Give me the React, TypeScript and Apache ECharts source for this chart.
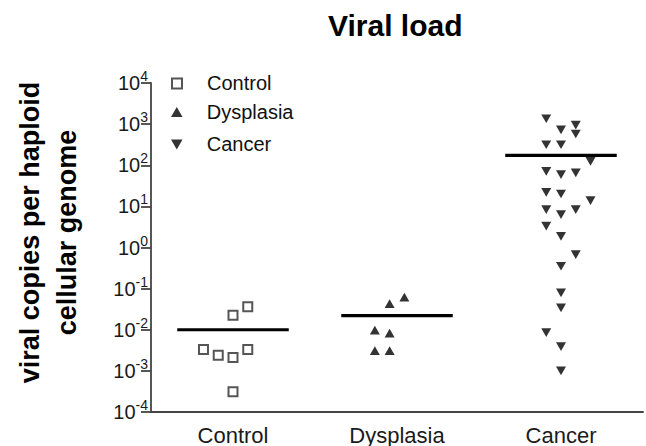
import React, { useEffect, useRef } from "react";
import * as echarts from "echarts";

const FONT = "'Liberation Sans', Arial, Helvetica, sans-serif";

const categories = ["Control", "Dysplasia", "Cancer"];
const chartTitle = "Viral load";
const yAxisName = "viral copies per haploid\ncellular genome";
const yMin = 1e-4;
const yMax = 1e4;

// [horizontal jitter step, value]
const controlPoints: [number, number][] = [
  [1, 0.036],
  [0, 0.0225],
  [-2, 0.0033],
  [-1, 0.0024],
  [0, 0.0021],
  [1, 0.0033],
  [0, 0.00031],
];
const dysplasiaPoints: [number, number][] = [
  [0.5, 0.062],
  [-0.5, 0.043],
  [-1.5, 0.0098],
  [-0.5, 0.0083],
  [-1.5, 0.0031],
  [-0.5, 0.0031],
];
const cancerPoints: [number, number][] = [
  [-1, 1350],
  [1, 950],
  [0, 725],
  [1, 575],
  [-1, 315],
  [0, 315],
  [2, 124],
  [-1, 71],
  [0, 59],
  [1, 65],
  [-1, 21.9],
  [0, 20],
  [2, 13.8],
  [-1, 8.3],
  [0, 6.3],
  [1, 8.3],
  [-1, 3.3],
  [0, 1.87],
  [1, 0.67],
  [0, 0.35],
  [0, 0.079],
  [0, 0.034],
  [-1, 0.0085],
  [0, 0.0039],
  [0, 0.001],
];
const groupMeans = [0.01, 0.022, 174];

const JITTER = 0.09;
const MEAN_HALF = 0.34;
const LEGEND_TOPS = [73.4, 102, 134.4];

export default function App() {
  const ref = useRef<HTMLDivElement>(null);
  useEffect(() => {
    if (!ref.current) return;
    const chart = echarts.init(ref.current, undefined, { renderer: "svg" });
    const toXY = (pts: [number, number][], ci: number) =>
      pts.map(([s, v]) => [ci + 0.5 + s * JITTER, v]);
    const meanSeries = groupMeans.map((m, i) => ({
      type: "line",
      name: "mean-" + categories[i],
      data: [
        [i + 0.5 - MEAN_HALF, m],
        [i + 0.5 + MEAN_HALF, m],
      ],
      symbol: "none",
      lineStyle: { color: "#000", width: 3.2 },
      silent: true,
      z: 1,
    }));
    const square = "path://M0 0 L10 0 L10 10 L0 10 Z";
    const upTri = "path://M5 0 L10 8.66 L0 8.66 Z";
    const downTri = "path://M0 0 L10 0 L5 8.66 Z";
    chart.setOption({
      animation: false,
      backgroundColor: "#fff",
      title: {
        text: chartTitle,
        left: 328,
        top: 10,
        padding: 0,
        textStyle: { fontFamily: FONT, fontSize: 30, fontWeight: "bold", color: "#000" },
      },
      legend: categories.map((c, i) => ({
        orient: "vertical",
        left: 171,
        top: LEGEND_TOPS[i],
        padding: 0,
        itemWidth: 50,
        itemHeight: 10,
        symbolKeepAspect: true,
        data: [c],
        textStyle: { fontFamily: FONT, fontSize: 20, color: "#111", lineHeight: 20 },
      })),
      graphic: [
        {
          type: "text",
          x: 48.6,
          y: 232.5,
          rotation: Math.PI / 2,
          style: {
            text: yAxisName,
            fontFamily: FONT,
            fontSize: 27,
            fontWeight: "bold",
            lineHeight: 36.5,
            fill: "#000",
            align: "center",
            verticalAlign: "middle",
          },
        },
      ],
      grid: { left: 151, right: 0, top: 83, bottom: 33 },
      xAxis: {
        type: "value",
        min: 0,
        max: 3,
        interval: 0.5,
        axisLine: { onZero: false, lineStyle: { color: "#444", width: 1.8 } },
        axisTick: { show: false },
        splitLine: { show: false },
        axisLabel: {
          margin: 12,
          fontFamily: FONT,
          fontSize: 22,
          color: "#1a1a1a",
          formatter: (v: number) => {
            const i = Math.round(v - 0.5);
            return Math.abs(v - (i + 0.5)) < 1e-6 && categories[i] ? categories[i] : "";
          },
        },
      },
      yAxis: {
        type: "log",
        logBase: 10,
        min: yMin,
        max: yMax,
        interval: 1,
        splitNumber: 8,
        axisLine: { onZero: false, lineStyle: { color: "#444", width: 1.8 } },
        axisTick: { show: true, length: 10, lineStyle: { color: "#444", width: 1.8 } },
        splitLine: { show: false },
        minorTick: { show: false },
        axisLabel: {
          margin: 3,
          formatter: (v: number) => `{b|10}{s|${Math.round(Math.log10(v))}}`,
          rich: {
            b: { fontFamily: FONT, fontSize: 20, color: "#1a1a1a", lineHeight: 28, verticalAlign: "middle" },
            s: { fontFamily: FONT, fontSize: 14, color: "#1a1a1a", lineHeight: 14, verticalAlign: "top" },
          },
        },
      },
      series: [
        {
          type: "scatter",
          name: "Control",
          data: toXY(controlPoints, 0),
          symbol: square,
          symbolSize: 9,
          itemStyle: { color: "#fff", borderColor: "#2a2a2a", borderWidth: 2 },
          clip: false,
          z: 3,
        },
        {
          type: "scatter",
          name: "Dysplasia",
          data: toXY(dysplasiaPoints, 1),
          symbol: upTri,
          symbolSize: [10, 8.7],
          itemStyle: { color: "#000" },
          clip: false,
          z: 3,
        },
        {
          type: "scatter",
          name: "Cancer",
          data: toXY(cancerPoints, 2),
          symbol: downTri,
          symbolSize: [10, 8.7],
          itemStyle: { color: "#000" },
          clip: false,
          z: 3,
        },
        ...meanSeries,
      ],
    });
    return () => chart.dispose();
  }, []);
  return (
    <div
      ref={ref}
      style={{ position: "absolute", left: 0, top: 0, width: 646, height: 446 }}
    />
  );
}
